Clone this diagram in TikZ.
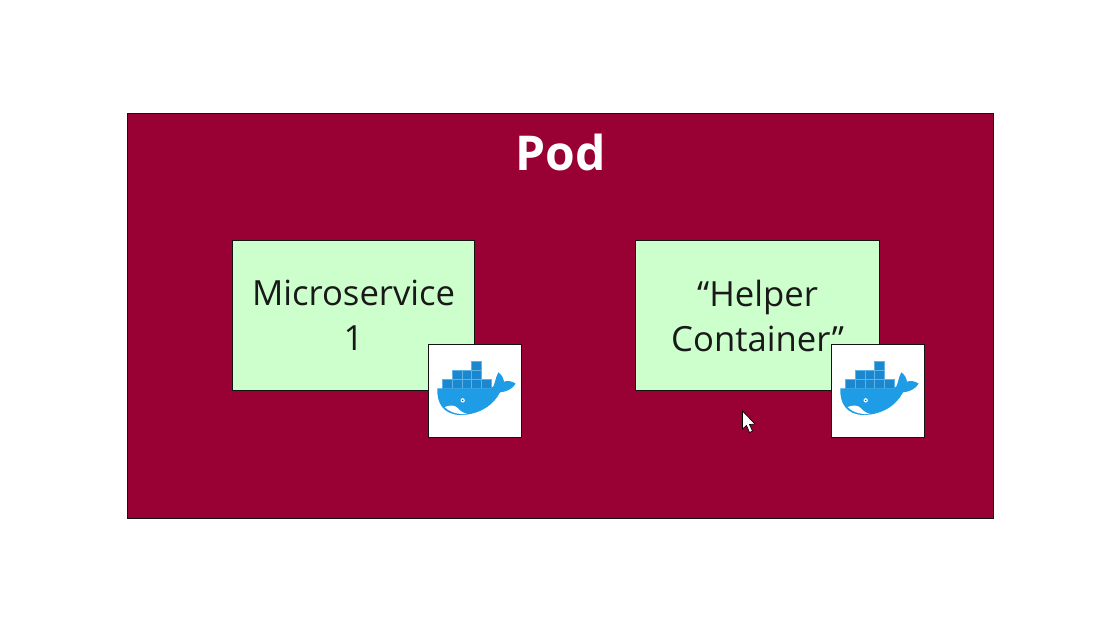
\documentclass[tikz,border=0pt]{standalone}
\usepackage{fontspec}
\setmainfont{Open Sans}
\definecolor{podred}{HTML}{990033}
\definecolor{boxgreen}{HTML}{CCFFCC}
\definecolor{whaleblue}{HTML}{1E9CE6}
\definecolor{crateblue}{HTML}{1B87CF}
\definecolor{crateline}{HTML}{5FB4E6}
\definecolor{linedark}{HTML}{141414}
\tikzset{
  podbox/.style={draw=linedark,line width=0.9pt,fill=podred,minimum width=649.5pt,minimum height=303.75pt,inner sep=0pt,anchor=north west},
  greenbox/.style={draw=linedark,line width=0.9pt,fill=boxgreen,minimum height=112.5pt,inner sep=0pt,anchor=north west,align=center,font=\fontsize{26}{33.75}\selectfont,text=black!90},
  iconbox/.style={draw=linedark,line width=0.9pt,fill=white,minimum width=69.75pt,minimum height=69.75pt,inner sep=0pt,anchor=north west},
  podlabel/.style={text=white,font=\fontsize{36}{40}\selectfont\bfseries,inner sep=0pt},
  crate/.style={fill=crateblue,draw=crateline,line width=0.4pt},
  whale/.pic={
    \begin{scope}[x=0.25pt,y=-0.25pt]
      \foreach \cx in {68,97,126,155,184} {\path[crate] (\cx,133) rectangle ++(29,27);}
      \foreach \cx in {97,126,155} {\path[crate] (\cx,107) rectangle ++(29,26);}
      \path[crate] (155,80) rectangle ++(29,27);
      \fill[whaleblue] (52,160) -- (213,160) .. controls (226,156) and (224,130) .. (235,112)
        .. controls (244,118) and (250,128) .. (252,140)
        .. controls (262,136) and (276,138) .. (287,146)
        .. controls (276,164) and (258,170) .. (240,172)
        .. controls (222,208) and (180,240) .. (120,240)
        .. controls (70,238) and (50,205) .. (52,160) -- cycle;
      \fill[white] (74,216) .. controls (90,209) and (106,211) .. (113,219)
        .. controls (119,227) and (129,233) .. (141,237)
        .. controls (115,239) and (90,233) .. (74,216) -- cycle;
      \fill[white] (128,196) circle (6.5);
      \fill[crateblue!70!black] (128,196) circle (2.5);
    \end{scope}
  }
}
\begin{document}
\begin{tikzpicture}[x=0.75pt,y=-0.75pt]
  \useasboundingbox[fill=white] (0,0) rectangle (1097,637);
  \node[podbox] (pod) at (127,113) {};
  \node[podlabel] (podtext) at (560.5,152) {Pod};
  \node[greenbox,minimum width=181.5pt] (ms) at (232,240) {Microservice\\1};
  \node[greenbox,minimum width=183pt] (helper) at (635,240) {“Helper\\Container”};
  \node[iconbox] (icon1) at (427.5,343.5) {};
  \node[iconbox] (icon2) at (830.5,343.5) {};
  \pic at (420,335) {whale};
  \pic at (823,335) {whale};
  \fill[white,draw=black,line width=0.5pt] (742.5,411) -- (742.5,429) -- (746.5,425.5) -- (749.5,432.5) -- (752.5,431) -- (749.5,424.5) -- (755,424) -- cycle;
\end{tikzpicture}
\end{document}
